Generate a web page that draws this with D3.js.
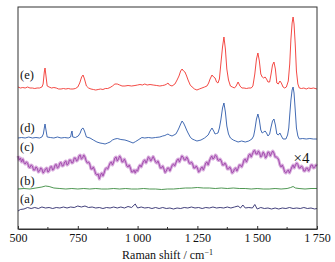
<!DOCTYPE html>
<html>
<head>
<meta charset="utf-8">
<script src="https://cdn.jsdelivr.net/npm/d3@7"></script>
<style>
  html, body { margin: 0; padding: 0; background: #fff; }
  #chart { width: 335px; height: 262px; }
  text { font-family: "Liberation Serif", "DejaVu Serif", serif; fill: #111; }
</style>
</head>
<body>
<div id="chart"></div>
<script>
const xTicks = [500, 750, 1000, 1250, 1500, 1750];
const xMinorTicks = [625, 875, 1125, 1375, 1625];
const seriesKeys = ["a", "b", "c", "d", "e"];
const seriesLabels = ["(a)", "(b)", "(c)", "(d)", "(e)"];
const seriesColors = ["#2d2a6c", "#3b8b3f", "#a550b0", "#2e5aaa", "#f23530"];
const scaleNote = "×4";

// [Raman shift, intensity (offset, arb. units)]
const spectrumA = [[500,18],[510,19.5],[525,20],[540,21.5],[555,20.5],[570,21.5],[585,20.5],[600,22],[615,21],[630,21.5],[645,20.5],[660,21.5],[675,21],[690,22],[705,21],[720,22],[735,21.5],[750,23],[765,22],[780,23],[795,21.5],[810,22],[825,21],[840,21.5],[855,20.5],[870,21.5],[885,21],[900,22],[915,21],[930,22],[945,21],[960,22.5],[975,21.5],[990,25],[1000,21],[1015,22],[1030,21],[1045,21.5],[1060,20.5],[1075,21.5],[1090,20.5],[1105,21.5],[1120,20.5],[1135,21],[1150,20],[1165,21],[1180,20.5],[1195,21.5],[1210,21],[1225,22],[1240,21],[1255,21.5],[1270,20.5],[1285,21.5],[1300,21],[1315,22],[1330,21],[1345,21.5],[1360,21],[1375,22],[1390,21],[1405,22],[1420,23],[1430,21],[1440,24],[1450,21],[1465,21.5],[1480,21],[1490,24.5],[1500,20],[1515,21.5],[1530,20.5],[1545,21],[1560,20],[1575,21],[1590,20],[1605,21],[1620,20.5],[1635,21.5],[1650,20.5],[1665,21],[1680,20.5],[1695,21.5],[1710,20.5],[1725,21],[1740,20],[1750,20.5]];

const spectrumB = [[500,40],[525,40.5],[550,40],[575,41],[600,42],[615,43],[630,42.5],[650,41],[675,40.5],[700,40],[725,40.5],[750,40],[775,40.5],[800,40],[825,40.5],[850,40],[875,40],[900,40.5],[925,40],[950,40.5],[975,40],[1000,40],[1025,40.5],[1050,40],[1075,40],[1100,39.5],[1125,40],[1150,40],[1175,40.5],[1200,41],[1225,41],[1250,41.5],[1275,41],[1300,41],[1325,40.5],[1350,41],[1375,40.5],[1400,41],[1425,40.5],[1450,40.5],[1475,40],[1500,40.5],[1525,40],[1550,40],[1575,40.5],[1600,40],[1625,40.5],[1640,41.5],[1650,42.5],[1660,41],[1675,40.5],[1700,40],[1725,40.5],[1750,40.5]];

const spectrumC = [[500,73],[505,69],[510,71],[515,67],[520,70],[525,66.5],[530,65],[535,67],[540,66],[545,62],[550,61.5],[555,64],[560,63],[565,59],[570,59],[575,62],[580,61],[585,57],[590,58],[595,61],[600,60],[605,56],[610,57.5],[615,60],[620,61],[625,57],[630,58],[635,62],[640,62.5],[645,59],[650,60],[655,64],[660,64.5],[665,61],[670,62],[675,66],[680,66.5],[685,63],[690,63.5],[695,67],[700,68],[705,64],[710,65],[715,69],[720,69],[725,66],[730,66.5],[735,71],[740,71],[745,68],[750,69],[755,73],[760,74],[765,70],[770,71],[775,74],[780,72],[785,68],[790,66],[795,67],[800,65],[805,60],[810,60],[815,62],[820,59],[825,55],[830,54],[835,55],[840,50],[845,54],[850,56],[855,53],[860,56],[865,60],[870,61],[875,60],[880,63],[885,66],[890,67],[895,64],[900,67],[905,71],[910,72],[915,68],[920,70],[925,73],[930,71],[935,67],[940,67.5],[945,70],[950,67],[955,63],[960,62],[965,64],[970,61],[975,57],[980,57],[985,59],[990,56],[995,59],[1000,58],[1005,62],[1010,64],[1015,62],[1020,65],[1025,68],[1030,69],[1035,66],[1040,68.5],[1045,72],[1050,71],[1055,68],[1060,70],[1065,72.5],[1070,70],[1075,67],[1080,66],[1085,68],[1090,65],[1095,61],[1100,61],[1105,63],[1110,60],[1115,56.5],[1120,58],[1125,61],[1130,61],[1135,58],[1140,61],[1145,64],[1150,65],[1155,63],[1160,66],[1165,69],[1170,70],[1175,67],[1180,70],[1185,73],[1190,72],[1195,69],[1200,69],[1205,72],[1210,70],[1215,66],[1220,65.5],[1225,67],[1230,65],[1235,61],[1240,61],[1245,63],[1250,61],[1255,57],[1260,58],[1265,61],[1270,62],[1275,59],[1280,62.5],[1285,66],[1290,67],[1295,64],[1300,68],[1305,71],[1310,73],[1315,70],[1320,71],[1325,74],[1330,73],[1335,69],[1340,68.5],[1345,70],[1350,68],[1355,64],[1360,64],[1365,66],[1370,64],[1375,60],[1380,60],[1385,62],[1390,60],[1395,56],[1400,57],[1405,60],[1410,61],[1415,58],[1420,60.5],[1425,64],[1430,64],[1435,62],[1440,65],[1445,69],[1450,70],[1455,67],[1460,70],[1465,74],[1470,75],[1475,72],[1480,75],[1485,78],[1490,78.5],[1495,75],[1500,75],[1505,78],[1510,76],[1515,72],[1520,73.5],[1525,77],[1530,75],[1535,71],[1540,73],[1545,77],[1550,76.5],[1555,73],[1560,76],[1565,78],[1570,76],[1575,72],[1580,72],[1585,71],[1590,69],[1595,64],[1600,62],[1605,64],[1610,61],[1615,57],[1620,56],[1625,58],[1630,59],[1635,56],[1640,59],[1645,62],[1650,64],[1655,61],[1660,64],[1665,66],[1670,64.5],[1675,61],[1680,61],[1685,63],[1690,61.5],[1695,58],[1700,58],[1705,61],[1710,61],[1715,58],[1720,60.5],[1725,64],[1730,64],[1735,61],[1740,61.5],[1745,64],[1750,63]];

const spectrumD = [[500,91],[515,91.5],[530,91],[545,92],[560,91],[575,91.5],[590,91],[600,92],[606,95],[610,101],[613,105],[617,99],[622,92],[635,91.5],[650,91],[665,92],[680,91],[695,91.5],[710,91],[720,92],[724,97],[726,98],[729,92],[740,91.5],[752,93],[760,96],[766,100],[772,101],[778,98],[786,92],[801,91],[815,89],[830,87],[843,86],[855,85.5],[864,85],[875,86],[885,87],[895,89],[905,90],[915,90.5],[930,89.5],[947,89],[960,88],[981,86],[992,87.5],[1002,89],[1018,91.5],[1030,91],[1045,91.5],[1060,91],[1075,91.5],[1093,92],[1105,93],[1114,93.5],[1122,94.5],[1127,95],[1133,94],[1144,93],[1152,94],[1160,95],[1167,98],[1173,101],[1180,105],[1186,108],[1192,106],[1198,103],[1205,99],[1211,96],[1220,92],[1228,90],[1238,89],[1248,88],[1257,88.5],[1265,89],[1280,91],[1295,94],[1303,98],[1311,101],[1318,98],[1324,95],[1330,95.5],[1336,96],[1342,101],[1348,109],[1355,121],[1361,126],[1367,117],[1373,103],[1380,95],[1388,91],[1400,89],[1410,88],[1420,87],[1435,88],[1450,87],[1465,88],[1478,90],[1485,93],[1490,99],[1497,110],[1503,115],[1509,109],[1515,99],[1521,96],[1527,97],[1533,98],[1539,96],[1545,93],[1552,95],[1558,102],[1564,108],[1570,110],[1576,104],[1582,95],[1588,94],[1595,96],[1601,93],[1608,90],[1620,90],[1627,94],[1632,101],[1636,114],[1641,129],[1646,139],[1650,142],[1654,136],[1659,119],[1664,101],[1670,93],[1676,90],[1690,90.5],[1705,90],[1720,90.5],[1735,90],[1750,90]];

const spectrumE = [[500,142],[510,141],[520,141.5],[530,141],[540,142],[550,141],[560,141],[570,140.5],[580,141],[590,141],[600,142],[605,145],[610,157],[613,161],[617,153],[622,143],[630,142],[640,141],[650,141.5],[660,141],[670,140],[680,140],[690,140.5],[700,140],[710,140.5],[720,140],[730,140],[740,140.5],[750,142],[758,146],[766,152],[772,154],[778,150],[786,143],[795,141],[805,140],[815,139.5],[825,139],[835,139.5],[845,140],[855,139.5],[865,140.5],[875,140.5],[885,141.5],[895,143],[905,145],[915,145],[925,144],[935,143],[947,143],[960,143.5],[975,143],[989,143.5],[1000,144],[1010,144.5],[1020,144],[1030,145],[1040,144],[1052,144.5],[1065,144],[1080,143.5],[1093,143],[1105,143.5],[1114,144],[1122,145],[1127,146],[1133,144],[1144,143],[1156,145],[1165,149],[1173,153],[1180,158],[1186,160],[1192,158],[1198,157],[1205,153],[1211,149],[1220,144],[1228,142],[1238,140],[1248,139],[1258,140],[1269,141],[1280,142],[1290,143],[1297,146],[1303,150],[1311,154],[1318,152],[1324,151],[1330,147],[1336,146],[1342,150],[1348,165],[1355,182],[1361,192],[1367,180],[1373,160],[1380,149],[1388,143],[1396,142],[1405,141],[1412,143],[1420,147],[1428,143],[1436,141],[1445,141],[1455,140.5],[1465,141],[1475,141],[1482,143],[1490,155],[1497,170],[1503,176],[1509,168],[1515,155],[1521,152],[1527,151],[1533,152],[1539,150],[1545,147],[1552,147],[1558,155],[1564,164],[1570,167],[1576,160],[1582,146],[1588,145],[1595,148],[1601,146],[1608,142],[1615,141],[1622,142],[1630,148],[1636,165],[1641,190],[1646,206],[1650,212],[1654,205],[1659,185],[1664,158],[1670,145],[1676,141],[1685,140.5],[1695,141],[1705,140],[1715,141],[1725,140.5],[1735,141],[1750,140]];

// label anchor intensities (where each "(x)" sits)
const labelLevels = [26, 44, 78, 97, 150];

function createRamanChart() {
    const container = d3.select("#chart");

    const containerWidth = 335;
    const containerHeight = 262;

    const margin = { top: 7, right: 18, bottom: 33, left: 18 };
    const width = containerWidth - margin.left - margin.right;
    const height = containerHeight - margin.top - margin.bottom;

    const svg = container.append("svg")
        .attr("width", containerWidth)
        .attr("height", containerHeight);

    const g = svg.append("g")
        .attr("transform", `translate(${margin.left},${margin.top})`);

    const x = d3.scaleLinear()
        .domain([500, 1750])
        .range([0, width]);

    const y = d3.scaleLinear()
        .domain([0, 222])
        .range([height, 0]);

    const spectra = [spectrumA, spectrumB, spectrumC, spectrumD, spectrumE];

    const line = d3.line()
        .x(d => x(d[0]))
        .y(d => y(d[1]));

    // noisy trace (c) gets a soft halo so it reads as a band
    g.append("path")
        .datum(spectrumC)
        .attr("fill", "none")
        .attr("stroke", "#d6a8db")
        .attr("stroke-width", 3)
        .attr("stroke-linejoin", "round")
        .attr("d", line);

    g.selectAll(".spectrum")
        .data(spectra)
        .enter().append("path")
        .attr("class", "spectrum")
        .attr("fill", "none")
        .attr("stroke", (d, i) => seriesColors[i])
        .attr("stroke-width", (d, i) => seriesKeys[i] === "c" ? 1 : 0.9)
        .attr("stroke-linejoin", "round")
        .attr("d", line);

    g.selectAll(".series-label")
        .data(seriesLabels)
        .enter().append("text")
        .attr("class", "series-label")
        .attr("x", 2)
        .attr("y", (d, i) => y(labelLevels[i]))
        .style("font-size", "12.5px")
        .text(d => d);

    g.append("text")
        .attr("x", x(1652))
        .attr("y", y(66))
        .style("font-size", "15px")
        .text(scaleNote);

    // frame
    g.append("rect")
        .attr("width", width)
        .attr("height", height)
        .attr("fill", "none")
        .attr("stroke", "#333")
        .attr("stroke-width", 1);

    const fmt = d => d >= 1000 ? String(d).replace(/(\d)(\d{3})$/, "$1\u2009$2") : String(d);

    const xAxis = g.append("g")
        .attr("class", "axis axis-x")
        .attr("transform", `translate(0,${height})`)
        .call(d3.axisBottom(x)
            .tickValues(xTicks)
            .tickSizeInner(-3)
            .tickSizeOuter(0)
            .tickPadding(4)
            .tickFormat(fmt));

    xAxis.select(".domain").attr("stroke", "#333");
    xAxis.selectAll(".tick line").attr("stroke", "#333");
    xAxis.selectAll(".tick text")
        .style("font-family", "'Liberation Serif', serif")
        .style("font-size", "12px")
        .attr("fill", "#111");

    xAxis.selectAll(".minor")
        .data(xMinorTicks)
        .enter().append("line")
        .attr("class", "minor")
        .attr("x1", d => x(d))
        .attr("x2", d => x(d))
        .attr("y1", 0)
        .attr("y2", -2)
        .attr("stroke", "#333");

    svg.append("text")
        .attr("x", margin.left + width / 2)
        .attr("y", containerHeight - 3)
        .attr("text-anchor", "middle")
        .style("font-size", "12px")
        .html("Raman shift / cm<tspan dy='-4' style='font-size:8px'>\u22121</tspan>");
}

createRamanChart();
</script>
</body>
</html>
